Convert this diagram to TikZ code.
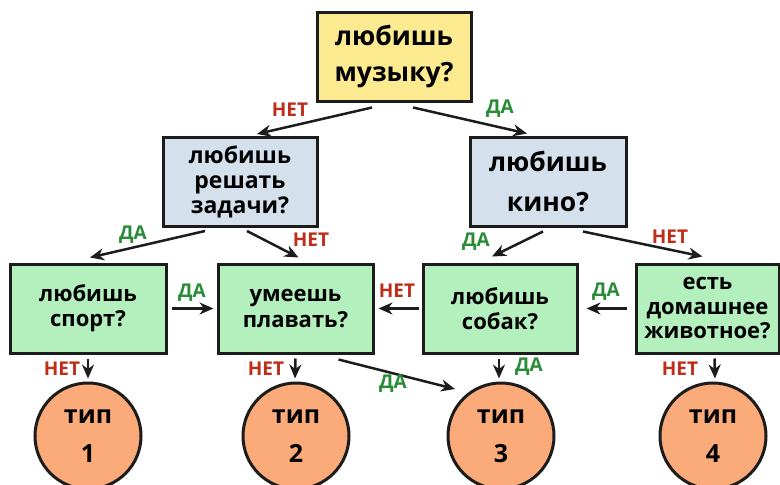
\documentclass[tikz,border=0pt]{standalone}
\usepackage{fontspec}
\setmainfont{Open Sans}
\usepackage{xcolor}
\usepackage{tikz}
\usetikzlibrary{arrows.meta,calc,positioning,shapes}

\definecolor{edge}{RGB}{28,28,28}
\definecolor{askyellow}{RGB}{252,234,145}
\definecolor{askblue}{RGB}{213,224,237}
\definecolor{askgreen}{RGB}{179,240,189}
\definecolor{typeorange}{RGB}{251,171,121}
\definecolor{netred}{RGB}{190,45,25}
\definecolor{dagreen}{RGB}{40,140,55}

\tikzset{
	box/.style={draw=edge,line width=3pt,minimum width=154pt,minimum height=89pt,inner sep=1pt,align=center},
	typecircle/.style={circle,draw=edge,line width=3pt,fill=typeorange,minimum size=106pt,inner sep=0pt,align=center,
		font=\bfseries\fontsize{25}{39}\selectfont},
	arr/.style={draw=edge,line width=2.5pt,-{Stealth[length=14pt,width=12pt]}},
	net/.style={text=netred,font=\bfseries\fontsize{19}{22}\selectfont,inner sep=0pt},
	da/.style={text=dagreen,font=\bfseries\fontsize{19}{22}\selectfont,inner sep=0pt}
}

\begin{document}
\begin{tikzpicture}[x=1pt,y=-1pt]
	\useasboundingbox (0,0) rectangle (780,485);
	% questions
	\node[box,fill=askyellow,font=\bfseries\fontsize{26.5}{36}\selectfont]	(music)	at (394,56.5)	{любишь\\музыку?};
	\node[box,fill=askblue,font=\bfseries\fontsize{23}{25}\selectfont]	(tasks)	at (240,182)	{любишь\\решать\\задачи?};
	\node[box,fill=askblue,minimum width=156pt,font=\bfseries\fontsize{26.5}{40}\selectfont]	(films)	at (548,181.5)	{любишь\\кино?};
	\node[box,fill=askgreen,minimum width=156pt,font=\bfseries\fontsize{22}{25}\selectfont]	(sport)	at (88,308.5)	{любишь\\спорт?};
	\node[box,fill=askgreen,minimum width=155pt,font=\bfseries\fontsize{22}{26}\selectfont]	(swim)	at (295.5,308.5)	{умеешь\\плавать?};
	\node[box,fill=askgreen,font=\bfseries\fontsize{22}{25}\selectfont]	(dogs)	at (500,308.5)	{любишь\\собак?};
	\node[box,fill=askgreen,minimum width=143pt,font=\bfseries\fontsize{22}{24.5}\selectfont]	(pet)	at (707.5,308.5)	{есть\\домашнее\\животное?};
	% types
	\foreach \n/\x in {1/88,2/296,3/501,4/713}
		\node[typecircle] (type\n) at (\x,436) {тип\\\n};
	% connectors
	\draw[arr] ($(music.south)+(-22,5)$)	-- ($(tasks.north)+(17,-2)$);
	\draw[arr] ($(music.south)+(19,5)$)	-- ($(films.north)+(-21,-2)$);
	\draw[arr] ($(tasks.south)+(-35,3)$)	-- ($(sport.north)+(2,-5)$);
	\draw[arr] ($(tasks.south)+(7,3)$)	-- ($(swim.north)+(3,-5)$);
	\draw[arr] ($(films.south)+(-5,4)$)	-- ($(dogs.north)+(-8,-6)$);
	\draw[arr] ($(films.south)+(35,4)$)	-- ($(pet.north)+(-5,-6)$);
	\draw[arr] ($(sport.east)+(4,0)$)	-- ($(swim.west)+(-3,0)$);
	\draw[arr] ($(dogs.west)+(-3,0)$)	-- ($(swim.east)+(4,0)$);
	\draw[arr] ($(pet.west)+(-8,0)$)	-- ($(dogs.east)+(8,0)$);
	\draw[arr] ($(sport.south)+(0,4)$)	-- ($(type1.north)+(0,-3)$);
	\draw[arr] ($(swim.south)+(0,4)$)	-- ($(type2.north)+(-1,-3)$);
	\draw[arr] ($(swim.south)+(43,5)$)	-- ($(type3.center)+(-46,-47)$);
	\draw[arr] ($(dogs.south)+(-1,4)$)	-- ($(type3.north)+(-2,-3)$);
	\draw[arr] ($(pet.south)+(7,4)$)	-- ($(type4.north)+(2,-3)$);
	% answers
	\node[net]	(n1)	at (290,110)	{НЕТ};
	\node[da]	(d1)	at (500,109)	{ДА};
	\node[da]	(d2)	at (133,235)	{ДА};
	\node[net]	(n2)	at (311,240)	{НЕТ};
	\node[da]	(d3)	at (476,242)	{ДА};
	\node[net]	(n3)	at (670,237)	{НЕТ};
	\node[da]	(d4)	at (192,293)	{ДА};
	\node[net]	(n4)	at (397,291)	{НЕТ};
	\node[da]	(d5)	at (606,292)	{ДА};
	\node[net]	(n5)	at (62,369)	{НЕТ};
	\node[net]	(n6)	at (266,369)	{НЕТ};
	\node[da]	(d6)	at (393,384)	{ДА};
	\node[da]	(d7)	at (529,367)	{ДА};
	\node[net]	(n7)	at (680,369)	{НЕТ};
\end{tikzpicture}
\end{document}
